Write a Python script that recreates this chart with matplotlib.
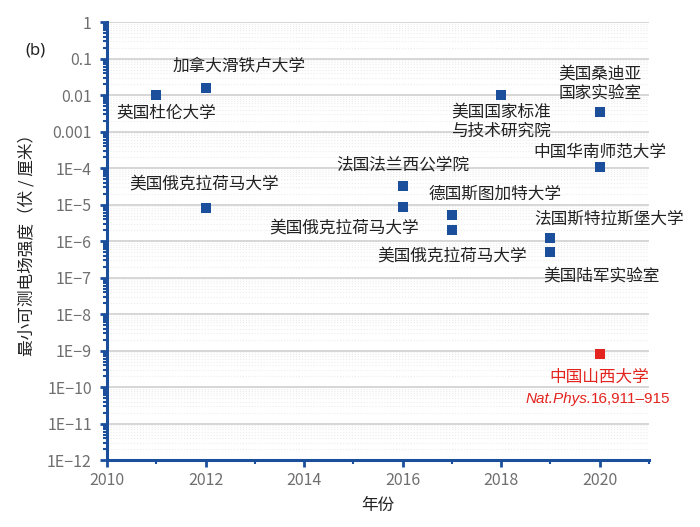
import numpy as np
import matplotlib
matplotlib.use("Agg")
import matplotlib.pyplot as plt
from matplotlib.ticker import LogLocator, FixedLocator, NullFormatter

plt.rcParams['font.family'] = ['Noto Sans CJK SC', 'DejaVu Sans']

# data
years = [2011, 2012, 2012, 2016, 2016, 2017, 2017, 2018, 2019, 2019, 2020, 2020]
fields = [1.0e-2, 1.55e-2, 8.0e-6, 3.2e-5, 8.5e-6, 5.3e-6, 2.0e-6, 1.0e-2, 1.25e-6, 5.0e-7, 3.5e-3, 1.05e-4]
labels = ['英国杜伦大学', '加拿大滑铁卢大学', '美国俄克拉荷马大学', '法国法兰西公学院',
          '美国俄克拉荷马大学', '德国斯图加特大学', '美国俄克拉荷马大学',
          '美国国家标准\n与技术研究院', '法国斯特拉斯堡大学', '美国陆军实验室',
          '美国桑迪亚\n国家实验室', '中国华南师范大学']
# label offsets in points from each marker
offsets = [(7, -13), (24, 16), (-1, 17), (0, 15), (-42, -15), (31, 15), (0, -19),
           (0, -19), (42, 13), (37, -17), (0, 20), (0, 11)]

sxu_year = 2020
sxu_field = 8.0e-10

ytick_vals = [10.0 ** -k for k in range(0, 13)]
ytick_labels = ['1', '0.1', '0.01', '0.001'] + ['1E\u2212%d' % k for k in range(4, 13)]
xticks = [2010, 2012, 2014, 2016, 2018, 2020]

blue = '#1b4f9c'
red = '#e3241f'
gray = '#6f6f6f'

fig = plt.figure(figsize=(7, 5.27), dpi=100)
ax = fig.add_axes([0.153, 0.127, 0.774, 0.831])

ax.set_yscale('log')
ax.set_ylim(1e-12, 1)
ax.set_xlim(2010, 2021)

ax.scatter(years, fields, marker='s', s=55, color=blue, zorder=3, linewidths=0)
ax.scatter([sxu_year], [sxu_field], marker='s', s=55, color=red, zorder=3, linewidths=0)

for x, y, t, o in zip(years, fields, labels, offsets):
    ax.annotate(t, (x, y), xytext=o, textcoords='offset points', ha='center', va='center',
                fontsize=12, color='#222222', linespacing=1.15)

ax.annotate('中国山西大学', (sxu_year, sxu_field), xytext=(0, -17), textcoords='offset points',
            ha='center', va='center', fontsize=12, color=red)
ax.annotate('Nat.Phys.', (sxu_year, sxu_field), xytext=(-6, -32), textcoords='offset points',
            ha='right', va='center', fontsize=11, color=red, family='Liberation Sans',
            style='italic')
ax.annotate('16,911\u2013915', (sxu_year, sxu_field), xytext=(-6, -32), textcoords='offset points',
            ha='left', va='center', fontsize=11, color=red, family='Liberation Sans')

# ticks
ax.yaxis.set_major_locator(FixedLocator(ytick_vals))
ax.set_yticklabels(ytick_labels)
ax.yaxis.set_minor_locator(LogLocator(base=10, subs=np.arange(2, 10), numticks=100))
ax.yaxis.set_minor_formatter(NullFormatter())
ax.set_xticks(xticks)
ax.set_xticks(range(2011, 2022, 2), minor=True)

ax.tick_params(axis='both', which='major', direction='out', length=5, width=2,
               color=blue, labelcolor=gray, labelsize=11.5)
ax.tick_params(axis='y', which='major', pad=6)
ax.tick_params(axis='both', which='minor', direction='out', length=3, width=1.5, color=blue)

for side in ['top', 'right']:
    ax.spines[side].set_visible(False)
for side in ['left', 'bottom']:
    ax.spines[side].set_color(blue)
    ax.spines[side].set_linewidth(2.2)

# grid
ax.grid(axis='y', which='major', color='#cfcfcf', linewidth=1.2, zorder=0)
ax.grid(axis='y', which='minor', color='#ececec', linewidth=0.8, linestyle=':', zorder=0)
ax.set_axisbelow(True)

ax.set_xlabel('年份', fontsize=12, color='#222222', labelpad=6)
ax.set_ylabel('最小可测电场强度（伏 / 厘米）', fontsize=12, color='#222222', labelpad=8)

fig.text(0.036, 0.905, '(b)', fontsize=12, color='#222222', family='Noto Sans', ha='left', va='center')

fig.savefig('out.png', dpi=100)
